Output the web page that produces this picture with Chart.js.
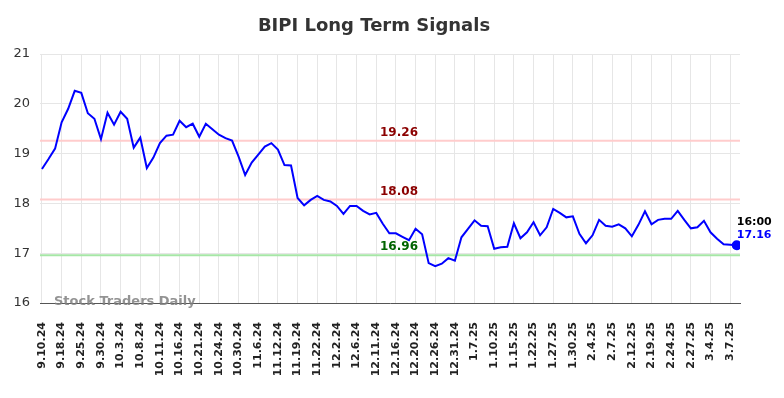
<!DOCTYPE html>
<html>
<head>
<meta charset="utf-8">
<script src="https://cdn.jsdelivr.net/npm/chart.js@4"></script>
<style>
  html, body { margin: 0; padding: 0; background: #fff; }
  #wrap { width: 784px; height: 398px; }
</style>
</head>
<body>
<div id="wrap"><canvas id="signalChart" width="784" height="398"></canvas></div>
<script>
// tick labels (one every 3 trading days)
const tickLabels = ["9.10.24", "9.18.24", "9.25.24", "9.30.24", "10.3.24", "10.8.24", "10.11.24", "10.16.24",
  "10.21.24", "10.24.24", "10.30.24", "11.6.24", "11.12.24", "11.19.24", "11.22.24", "12.2.24", "12.6.24",
  "12.11.24", "12.16.24", "12.20.24", "12.26.24", "12.31.24", "1.7.25", "1.10.25", "1.15.25", "1.22.25",
  "1.27.25", "1.30.25", "2.4.25", "2.7.25", "2.12.25", "2.19.25", "2.24.25", "2.27.25", "3.4.25", "3.7.25"];

// closing prices
const prices = [18.69, 18.89, 19.10, 19.63, 19.90, 20.26, 20.22, 19.81, 19.70, 19.29,
  19.82, 19.58, 19.84, 19.70, 19.12, 19.32, 18.71, 18.92, 19.21, 19.36,
  19.38, 19.66, 19.53, 19.60, 19.34, 19.60, 19.49, 19.38, 19.31, 19.26,
  18.94, 18.57, 18.82, 18.98, 19.14, 19.21, 19.08, 18.77, 18.76, 18.11,
  17.96, 18.07, 18.15, 18.07, 18.04, 17.95, 17.79, 17.95, 17.95, 17.85,
  17.78, 17.81, 17.59, 17.40, 17.40, 17.33, 17.26, 17.49, 17.38, 16.80,
  16.74, 16.79, 16.90, 16.85, 17.32, 17.49, 17.66, 17.55, 17.54, 17.09,
  17.12, 17.13, 17.60, 17.30, 17.42, 17.62, 17.36, 17.52, 17.89, 17.81,
  17.72, 17.74, 17.39, 17.20, 17.36, 17.67, 17.55, 17.53, 17.58, 17.50,
  17.34, 17.57, 17.84, 17.58, 17.67, 17.69, 17.69, 17.85, 17.67, 17.50,
  17.52, 17.65, 17.42, 17.29, 17.18, 17.17, 17.16];

// signal levels
const levelValues = [19.26, 18.08, 16.96];
const levelLineColors = ["#ffcccc", "#ffcccc", "#a6e6a6"];
const levelTextColors = ["#8b0000", "#8b0000", "#006400"];

const yTicks = [16, 17, 18, 19, 20, 21];
const lastTime = "16:00";

const points = prices.map((p, i) => ({ x: i, y: p }));

// draws signal lines, their labels, title, watermark and last-price note
const overlay = {
  id: "overlay",
  beforeDatasetsDraw(chart) {
    const { ctx, chartArea, scales } = chart;
    ctx.save();
    levelValues.forEach((v, i) => {
      const y = scales.y.getPixelForValue(v);
      ctx.strokeStyle = levelLineColors[i];
      ctx.lineWidth = 2;
      ctx.beginPath();
      ctx.moveTo(chartArea.left, y);
      ctx.lineTo(chartArea.right, y);
      ctx.stroke();
    });
    // watermark
    ctx.font = "bold 13px 'DejaVu Sans'";
    ctx.fillStyle = "rgba(128,128,128,0.85)";
    ctx.textAlign = "left";
    ctx.textBaseline = "middle";
    ctx.fillText("Stock Traders Daily", 54, chartArea.bottom - 1);
    ctx.restore();
  },
  afterDatasetsDraw(chart) {
    const { ctx, scales } = chart;
    ctx.save();
    ctx.font = "bold 12px 'DejaVu Sans'";
    ctx.textAlign = "center";
    ctx.textBaseline = "bottom";
    levelValues.forEach((v, i) => {
      const y = scales.y.getPixelForValue(v);
      ctx.fillStyle = levelTextColors[i];
      ctx.fillText(v.toFixed(2), 399, y - 2);
    });

    // title
    ctx.font = "bold 18px 'DejaVu Sans'";
    ctx.fillStyle = "#333333";
    ctx.textBaseline = "middle";
    ctx.fillText("BIPI Long Term Signals", 374, 26);

    // last price annotation
    const li = prices.length - 1;
    const px = scales.x.getPixelForValue(li);
    const py = scales.y.getPixelForValue(prices[li]);
    ctx.font = "bold 11px 'DejaVu Sans'";
    ctx.textAlign = "left";
    ctx.fillStyle = "#000000";
    ctx.fillText(lastTime, px, py - 23);
    ctx.fillStyle = "#0000ff";
    ctx.fillText(prices[li].toFixed(2), px, py - 10);
    ctx.restore();
  }
};

const ctx = document.getElementById("signalChart").getContext("2d");
new Chart(ctx, {
  type: "line",
  data: {
    datasets: [
      {
        data: points,
        borderColor: "#0000ff",
        backgroundColor: "#0000ff",
        borderWidth: 2,
        tension: 0,
        pointRadius: points.map((p, i) => (i === points.length - 1 ? 4 : 0)),
        pointHoverRadius: 0,
      },
    ],
  },
  options: {
    responsive: false,
    animation: false,
    events: [],
    layout: { padding: { top: 54, right: 44, left: 0, bottom: 0 } },
    plugins: {
      legend: { display: false },
      title: { display: false },
      tooltip: { enabled: false },
    },
    scales: {
      x: {
        type: "linear",
        min: -0.3,
        max: 106.5,
        afterBuildTicks(scale) {
          scale.ticks = tickLabels.map((_, i) => ({ value: i * 3 }));
        },
        afterFit(scale) {
          scale.height = 95;
        },
        grid: { color: "#e6e6e6", lineWidth: 1, drawTicks: false },
        border: { color: "#555555", width: 1 },
        ticks: {
          autoSkip: false,
          maxRotation: 90,
          minRotation: 90,
          padding: 19,
          color: "#222222",
          font: { family: "'DejaVu Sans'", size: 11, weight: "bold" },
          callback: (value) => tickLabels[Math.round(value / 3)],
        },
      },
      y: {
        min: 16,
        max: 21,
        afterBuildTicks(scale) {
          scale.ticks = yTicks.map((v) => ({ value: v }));
        },
        afterFit(scale) {
          scale.width = 40;
        },
        grid: { color: "#e6e6e6", lineWidth: 1, drawTicks: false },
        border: { display: false },
        ticks: {
          padding: 10,
          color: "#333333",
          font: { family: "'DejaVu Sans'", size: 13 },
        },
      },
    },
  },
  plugins: [overlay],
});
</script>
</body>
</html>
